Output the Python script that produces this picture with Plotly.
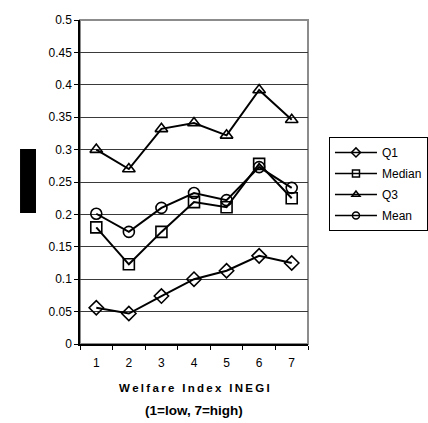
import plotly.graph_objects as go

categories = ["1", "2", "3", "4", "5", "6", "7"]
q1 = [0.056, 0.047, 0.074, 0.100, 0.113, 0.136, 0.125]
median = [0.180, 0.123, 0.173, 0.219, 0.211, 0.278, 0.225]
q3 = [0.300, 0.270, 0.332, 0.341, 0.322, 0.392, 0.346]
mean = [0.201, 0.173, 0.210, 0.233, 0.222, 0.273, 0.241]

y_ticks = [0, 0.05, 0.1, 0.15, 0.2, 0.25, 0.3, 0.35, 0.4, 0.45, 0.5]
y_tick_labels = ["0", "0.05", "0.1", "0.15", "0.2", "0.25", "0.3", "0.35", "0.4", "0.45", "0.5"]

x_title_1 = "Welfare Index INEGI"
x_title_2 = "(1=low, 7=high)"

series = [
    ("Q1", q1, "diamond-open"),
    ("Median", median, "square-open"),
    ("Q3", q3, "triangle-up-open"),
    ("Mean", mean, "circle-open"),
]

fig = go.Figure()
for name, vals, sym in series:
    fig.add_trace(go.Scatter(
        x=categories, y=vals, name=name, mode="lines+markers",
        showlegend=False, legendgroup=name,
        line=dict(color="black", width=2),
        marker=dict(symbol=sym, size=11, color="black",
                    line=dict(color="black", width=1.6)),
    ))
# legend entries with smaller symbols
for name, vals, sym in series:
    fig.add_trace(go.Scatter(
        x=[None], y=[None], name=name, mode="lines+markers",
        legendgroup=name, showlegend=True,
        line=dict(color="black", width=1.5),
        marker=dict(symbol=sym, size=7, color="black",
                    line=dict(color="black", width=1.5)),
    ))

font = "Liberation Sans, Arial, sans-serif"

def spaced(s):
    return "\u2009".join(s)

fig.update_layout(
    width=428, height=423,
    margin=dict(l=80, r=120, t=20, b=79, autoexpand=False),
    paper_bgcolor="white", plot_bgcolor="white",
    font=dict(family=font, size=12, color="black"),
    showlegend=True,
    legend=dict(
        x=1.092, y=0.639, xanchor="left", yanchor="top",
        bordercolor="black", borderwidth=1, bgcolor="white",
        font=dict(size=12, family=font),
        traceorder="grouped", tracegroupgap=2,
        itemwidth=42,
    ),
    xaxis=dict(
        type="category", range=[-0.5, 6.5],
        tickson="boundaries", ticks="outside", ticklen=4,
        tickcolor="black", showline=True, linecolor="black", linewidth=1.5,
        showgrid=False, zeroline=False,
        tickfont=dict(size=12), ticklabelstandoff=7,
    ),
    yaxis=dict(
        range=[0, 0.5], tickvals=y_ticks, ticktext=y_tick_labels,
        ticks="outside", ticklen=4, tickcolor="black",
        showline=True, linecolor="black", linewidth=1.5,
        showgrid=True, gridcolor="#3a3a3a", gridwidth=1,
        zeroline=False, tickfont=dict(size=12),
    ),
    annotations=[
        dict(text="<b>" + spaced(x_title_1) + "</b>", xref="paper", yref="paper",
             x=0.5, y=-0.136, xanchor="center", yanchor="middle",
             showarrow=False, font=dict(size=11.5)),
        dict(text="<b>" + x_title_2 + "</b>", xref="paper", yref="paper",
             x=0.5, y=-0.204, xanchor="center", yanchor="middle",
             showarrow=False, font=dict(size=13.5)),
    ],
    shapes=[
        dict(type="rect", xref="paper", yref="paper", x0=0, x1=1, y0=0, y1=1,
             line=dict(color="#8c8c8c", width=2), layer="below"),
        dict(type="rect", xref="paper", yref="paper",
             x0=-0.263, x1=-0.193, y0=0.404, y1=0.602,
             fillcolor="black", line=dict(width=0)),
    ],
)

fig.write_html("out.html")
